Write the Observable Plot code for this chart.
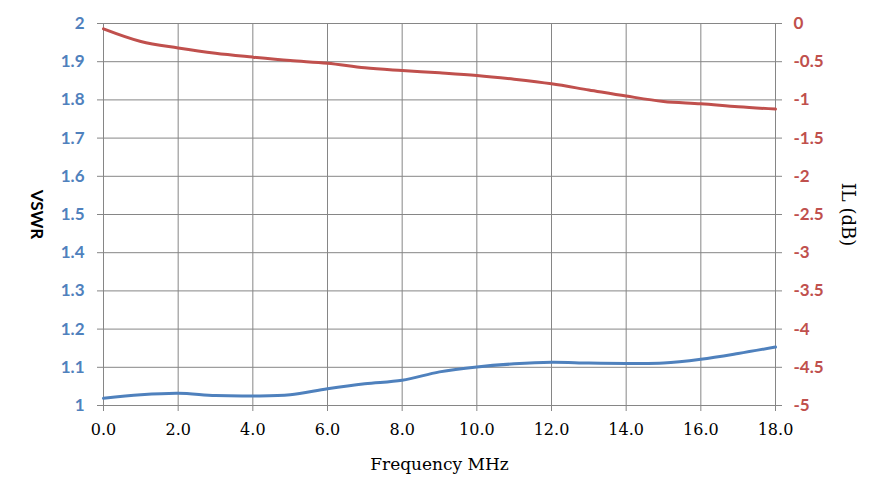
<!DOCTYPE html>
<html>
<head>
<meta charset="utf-8">
<script src="https://cdn.jsdelivr.net/npm/d3@7"></script>
<script src="https://cdn.jsdelivr.net/npm/@observablehq/plot@0.6"></script>
<style>
  html, body { margin: 0; padding: 0; background: #fff; }
</style>
</head>
<body>
<div id="chart"></div>
<script>
// Data
const freq = [0, 1, 2, 3, 4, 5, 6, 7, 8, 9, 10, 11, 12, 13, 14, 15, 16, 17, 18];
const vswr = [1.019, 1.028, 1.032, 1.026, 1.025, 1.028, 1.044, 1.057, 1.066, 1.088, 1.101, 1.109, 1.113, 1.111, 1.110, 1.111, 1.121, 1.136, 1.153];
const il   = [-0.07, -0.235, -0.32, -0.39, -0.44, -0.485, -0.52, -0.58, -0.615, -0.645, -0.68, -0.73, -0.79, -0.87, -0.95, -1.02, -1.05, -1.09, -1.12];

const xTicks = [0, 2, 4, 6, 8, 10, 12, 14, 16, 18];
const vswrTicks = [1, 1.1, 1.2, 1.3, 1.4, 1.5, 1.6, 1.7, 1.8, 1.9, 2];
const ilTicks = [0, -0.5, -1, -1.5, -2, -2.5, -3, -3.5, -4, -4.5, -5];

// map IL (dB, 0..-5) onto the VSWR scale (2..1)
const ilToY = v => 2 + v / 5;

const vswrData = freq.map((f, i) => ({f, v: vswr[i]}));
const ilData = freq.map((f, i) => ({f, v: ilToY(il[i])}));

const blue = "#4f81bd";
const red = "#c0504d";
const grid = "#868686";

const chart = Plot.plot({
  width: 886,
  height: 503,
  marginLeft: 103,
  marginRight: 111,
  marginTop: 23,
  marginBottom: 98,
  x: {domain: [0, 18]},
  y: {domain: [1, 2]},
  style: {background: "#fff"},
  marks: [
    Plot.ruleY(vswrTicks, {stroke: grid, strokeWidth: 1, strokeOpacity: 1}),
    Plot.ruleX(xTicks, {stroke: grid, strokeWidth: 1, strokeOpacity: 1}),
    Plot.axisY({
      anchor: "left",
      ticks: vswrTicks,
      tickFormat: d => String(+d.toFixed(1)),
      tickSize: 6,
      tickPadding: 13,
      stroke: grid,
      strokeOpacity: 1,
      fill: blue,
      fontSize: 17,
      fontWeight: "bold",
      fontFamily: "Lato",
      label: null
    }),
    Plot.axisY({
      anchor: "right",
      ticks: ilTicks.map(ilToY),
      tickFormat: d => String(+((d - 2) * 5).toFixed(1)),
      tickSize: 6,
      tickPadding: 12,
      stroke: grid,
      strokeOpacity: 1,
      fill: red,
      fontSize: 17,
      fontWeight: "bold",
      fontFamily: "Lato",
      label: null
    }),
    Plot.axisX({
      ticks: xTicks,
      tickFormat: d3.format(".1f"),
      tickSize: 6,
      tickPadding: 12,
      stroke: grid,
      strokeOpacity: 1,
      fill: "#000",
      fontSize: 16,
      fontFamily: "DejaVu Serif",
      label: null
    }),
    Plot.line(ilData, {x: "f", y: "v", stroke: red, strokeWidth: 3, curve: "catmull-rom"}),
    Plot.line(vswrData, {x: "f", y: "v", stroke: blue, strokeWidth: 3, curve: "catmull-rom"}),
    Plot.text(["VSWR"], {frameAnchor: "left", textAnchor: "middle", lineAnchor: "middle", dx: -67, rotate: 90, fontSize: 17, fontWeight: "bold", fontFamily: "Lato", fill: "#000"}),
    Plot.text(["IL (dB)"], {frameAnchor: "right", textAnchor: "middle", lineAnchor: "middle", dx: 72, rotate: 90, fontSize: 18, fontFamily: "DejaVu Serif", fill: "#000"}),
    Plot.text(["Frequency MHz"], {frameAnchor: "bottom", textAnchor: "middle", lineAnchor: "middle", dy: 59, fontSize: 17, fontFamily: "DejaVu Serif", fill: "#000"})
  ]
});
document.getElementById("chart").appendChild(chart);
</script>
</body>
</html>
